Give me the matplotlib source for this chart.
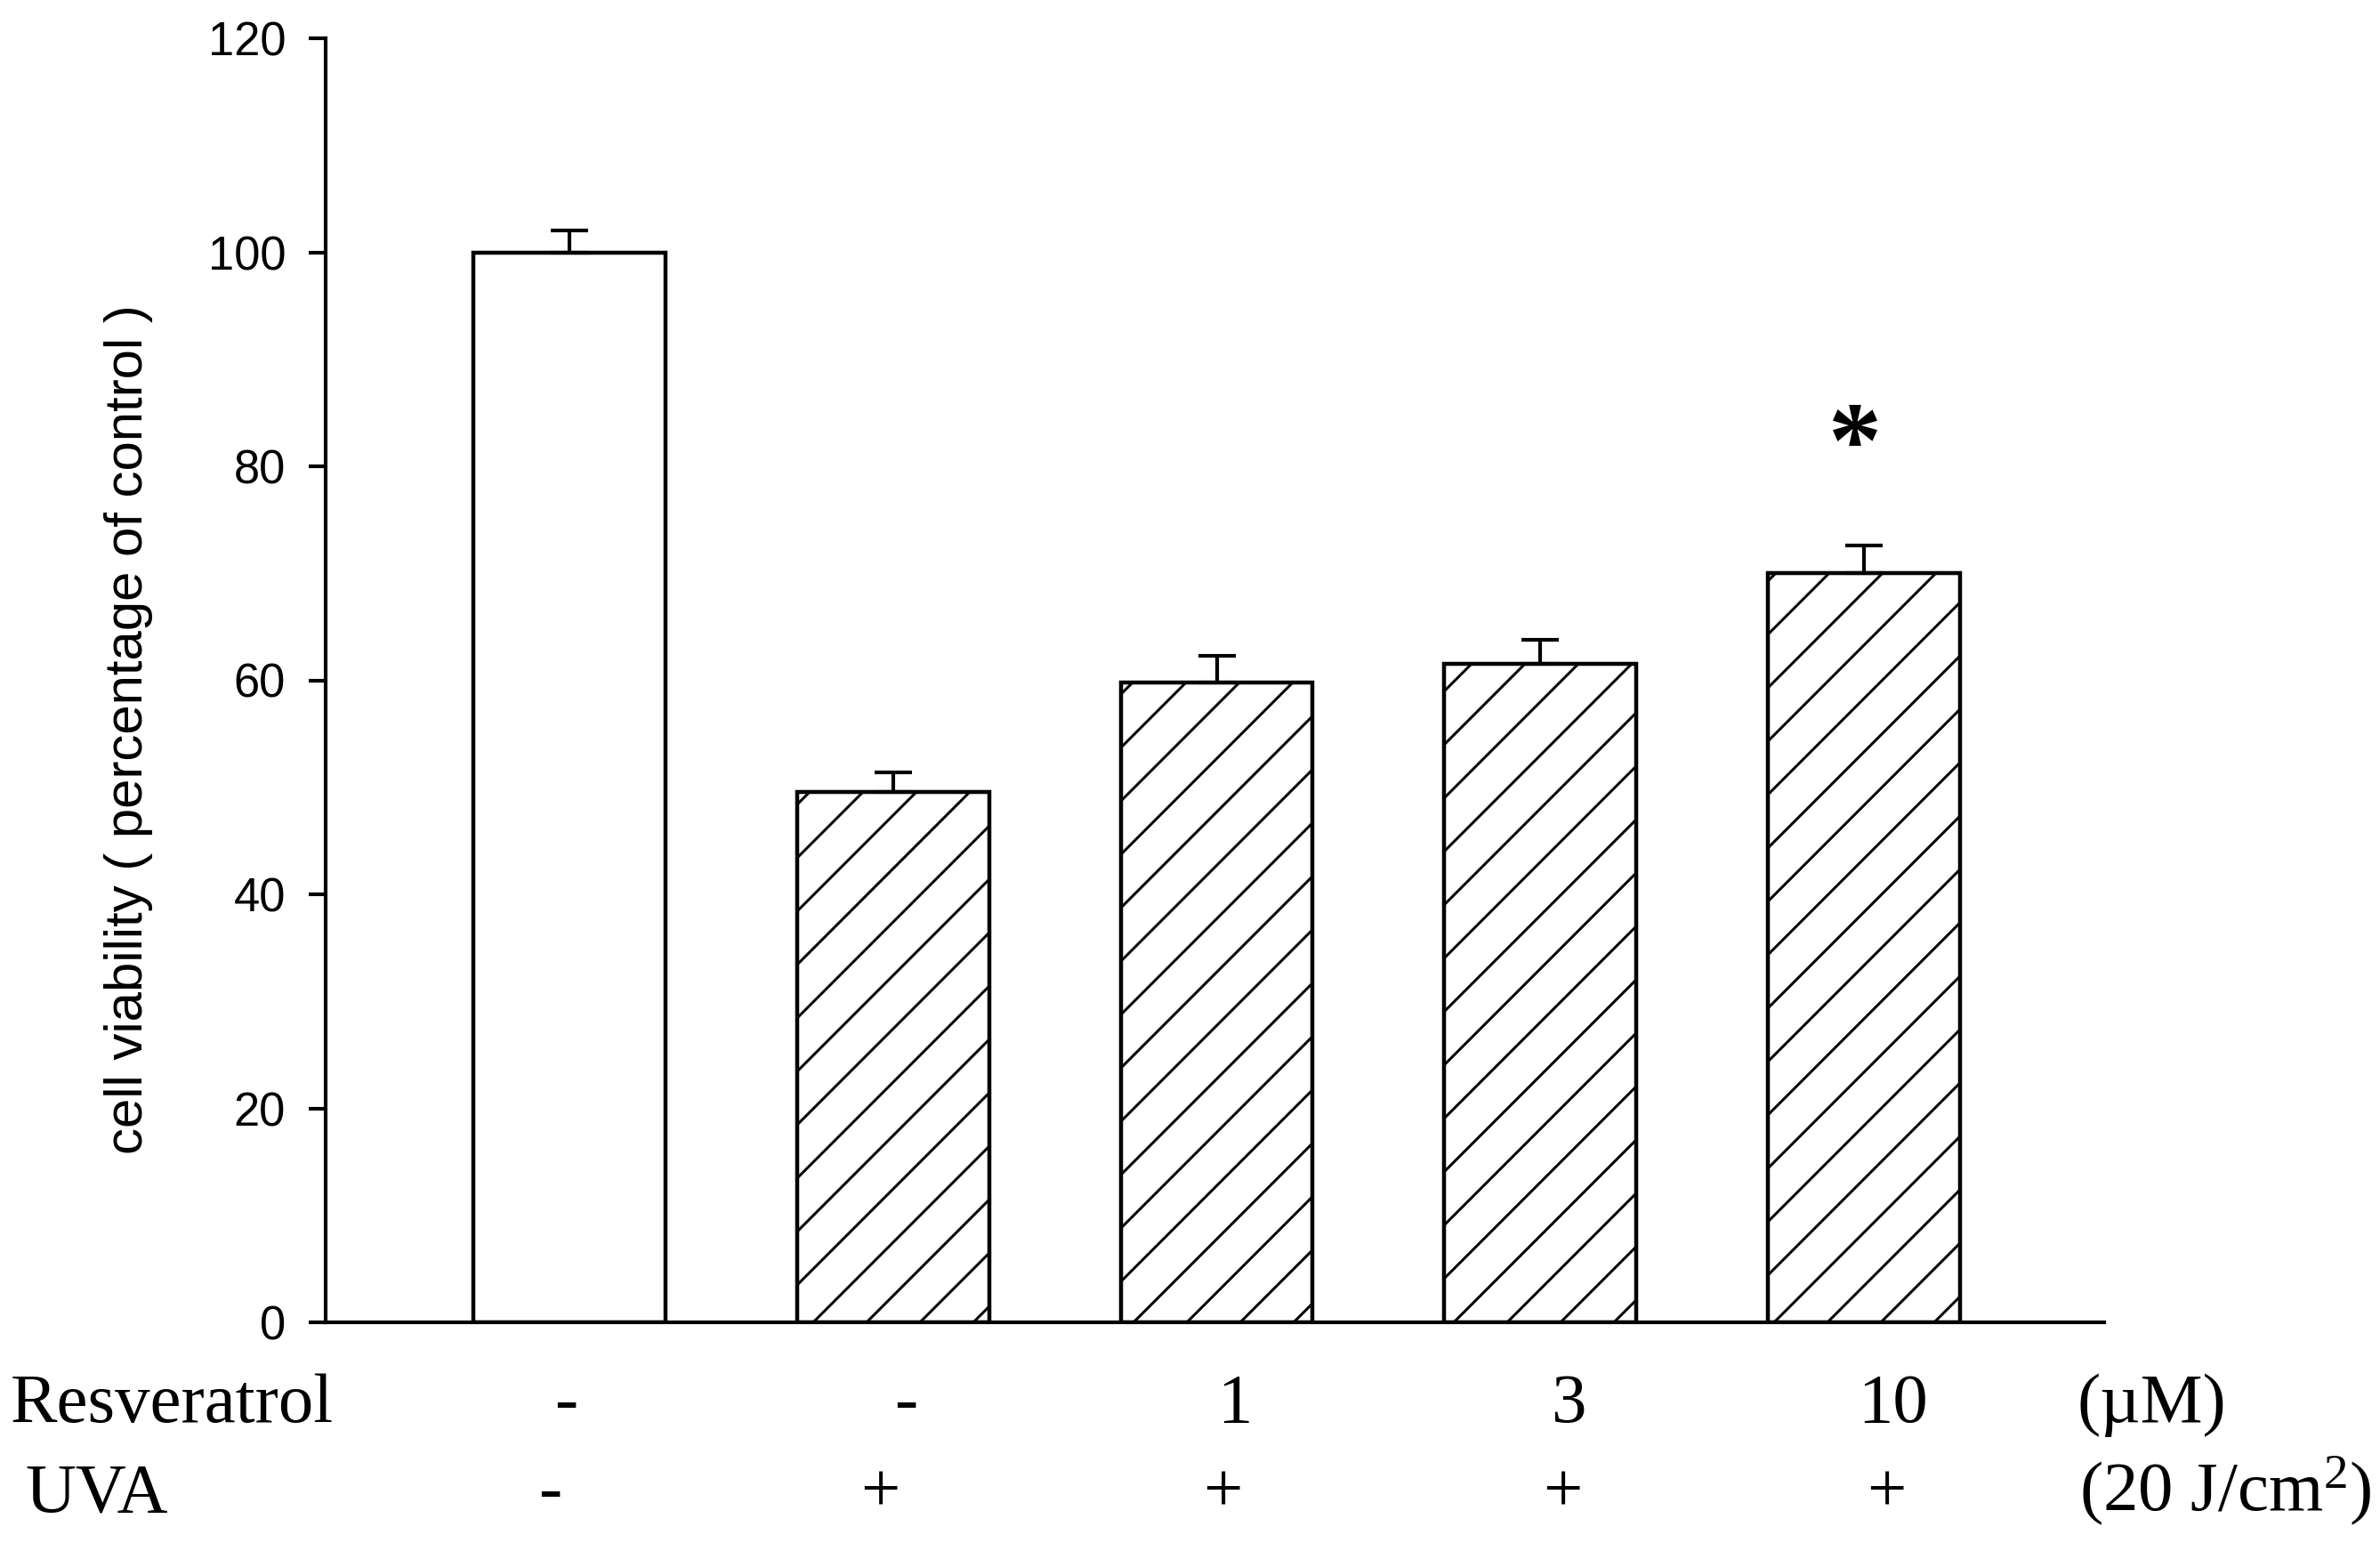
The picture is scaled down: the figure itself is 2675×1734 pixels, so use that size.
import matplotlib
matplotlib.use("Agg")
import matplotlib.pyplot as plt
import numpy as np

# ---- data ----
groups = ["control", "UVA", "UVA+Res1", "UVA+Res3", "UVA+Res10"]
viability = [100.0, 49.6, 59.8, 61.5, 70.0]
sem = [2.0, 1.8, 2.5, 2.3, 2.6]
hatched = [False, True, True, True, True]
resveratrol_labels = ["-", "-", "1", "3", "10"]
uva_labels = ["-", "+", "+", "+", "+"]
significant = [False, False, False, False, True]
yticks = [0, 20, 40, 60, 80, 100, 120]
ylabel = "cell viability ( percentage of control )"

DPI = 360
k = 270 / DPI  # scale factor for point sizes

plt.rcParams["mathtext.fontset"] = "custom"
plt.rcParams["mathtext.rm"] = "Liberation Serif"
plt.rcParams["mathtext.it"] = "Liberation Serif:italic"
plt.rcParams["hatch.linewidth"] = 0.8 * k

fig = plt.figure(figsize=(2675 / DPI, 1734 / DPI), dpi=DPI)
ax = fig.add_axes([366 / 2675, 1 - 1486 / 1734, (2365 - 366) / 2675, (1486 - 43) / 1734])

x = np.arange(len(groups))
for xi, v, h in zip(x, viability, hatched):
    ax.bar(xi, v, width=0.593, color="white", edgecolor="black",
           linewidth=1.2 * k, hatch="//" if h else None, zorder=2)

ax.errorbar(x, viability, yerr=[np.zeros(len(sem)), sem], fmt="none",
            ecolor="black", elinewidth=1.1 * k, capsize=5.5 * k,
            capthick=1.1 * k, zorder=3)

for xi, v, e, s in zip(x, viability, sem, significant):
    if s:
        ax.text(xi - 0.03, v + e + 8.9, "*", ha="center", va="center",
                fontsize=32 * k, fontweight="bold", family="Liberation Serif")

ax.set_xlim(-0.753, 4.742)
ax.set_ylim(0, 120)
ax.set_yticks(yticks)
ax.set_yticklabels([str(t) for t in yticks], family="Liberation Sans", fontsize=14 * k)
ax.tick_params(axis="y", direction="out", length=5 * k, width=1.1 * k, pad=7 * k)
ax.set_xticks(x)
ax.set_xticklabels([])
ax.tick_params(axis="x", direction="in", length=1.5 * k, width=1.1 * k)

for side in ["top", "right"]:
    ax.spines[side].set_visible(False)
for side in ["left", "bottom"]:
    ax.spines[side].set_linewidth(1.1 * k)

ax.set_ylabel(ylabel, family="Liberation Sans", fontsize=16 * k)
ax.yaxis.set_label_coords(-0.097, 0.462)

FS = 21 * k
trans = ax.get_xaxis_transform()
res_off = [-0.01, 0.04, 0.055, 0.09, 0.09]
uva_off = [-0.06, -0.04, 0.02, 0.07, 0.07]
for xi, lab, o in zip(x, resveratrol_labels, res_off):
    ax.text(xi + o, -0.0776, lab, transform=trans, ha="center", va="baseline",
            family="Liberation Serif", fontsize=FS, clip_on=False)
for xi, lab, o in zip(x, uva_labels, uva_off):
    ax.text(xi + o, -0.147, lab, transform=trans, ha="center", va="baseline",
            family="Liberation Serif", fontsize=FS, clip_on=False)

fig.text(12 / 2675, 1 - 1598 / 1734, "Resveratrol", ha="left", va="baseline",
         family="Liberation Serif", fontsize=FS)
fig.text(28 / 2675, 1 - 1698 / 1734, "UVA", ha="left", va="baseline",
         family="Liberation Serif", fontsize=FS)
fig.text(2334 / 2675, 1 - 1598 / 1734, "(\u00b5M)", ha="left", va="baseline",
         family="Liberation Serif", fontsize=FS)
fig.text(2337 / 2675, 1 - 1698 / 1734, r"(20 J/cm$^{2}$)", ha="left", va="baseline",
         family="Liberation Serif", fontsize=FS)

fig.savefig("out.png", dpi=DPI, facecolor="white")
